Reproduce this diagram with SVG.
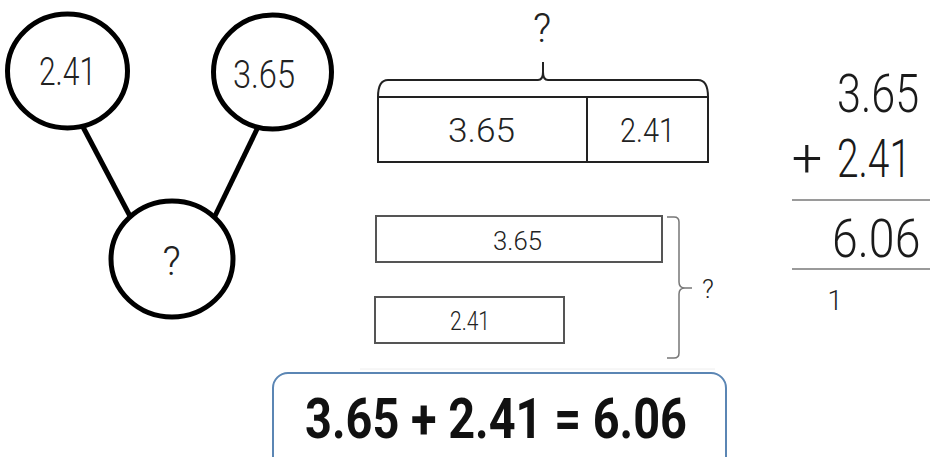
<svg xmlns="http://www.w3.org/2000/svg" width="930" height="457" viewBox="0 0 930 457">
<style>
text{font-family:Roboto,"Liberation Sans",sans-serif;fill:#222;font-weight:300;}
.col{font-weight:300;fill:#1a1a1a;}
.eq{font-weight:700;fill:#111;}
.node{fill:#fff;stroke:#000;stroke-width:5;}
.conn{stroke:#000;stroke-width:5;fill:none;}
.bar{fill:#fff;stroke:#222;stroke-width:2;}
.bar2{fill:#fff;stroke:#555;stroke-width:2;}
.rule{stroke:#9a9a9a;stroke-width:2;}
</style>
<rect width="930" height="457" fill="#fff"/>
<g id="connectors">
<line class="conn" x1="83" y1="127" x2="131" y2="218"/>
<line class="conn" x1="258" y1="127" x2="214" y2="218"/>
</g>
<g id="node-241">
<ellipse class="node" cx="67.5" cy="71" rx="60" ry="57"/>
<text x="39" y="85" font-size="38" textLength="57" lengthAdjust="spacingAndGlyphs">2.41</text>
</g>
<g id="node-365">
<ellipse class="node" cx="272.5" cy="72" rx="59" ry="57"/>
<text x="233" y="88" font-size="38" textLength="62" lengthAdjust="spacingAndGlyphs">3.65</text>
</g>
<g id="node-sum">
<ellipse class="node" cx="172" cy="259" rx="61" ry="58"/>
<text x="171.5" y="275" font-size="40" text-anchor="middle">?</text>
</g>
<g id="bar-model-top">
<text x="542" y="42" font-size="40" text-anchor="middle">?</text>
<path d="M378,97 Q378,80 388,80 L538,80 Q543,80 543,72 L543,62 M543,72 Q543,80 548,80 L698,80 Q708,80 708,97" fill="none" stroke="#222" stroke-width="2"/>
<rect class="bar" x="378" y="97" width="330" height="65"/>
<line x1="587" y1="97" x2="587" y2="162" stroke="#222" stroke-width="2"/>
<text x="448" y="142" font-size="34" textLength="67" lengthAdjust="spacingAndGlyphs">3.65</text>
<text x="620" y="142" font-size="34" textLength="55" lengthAdjust="spacingAndGlyphs">2.41</text>
</g>
<g id="bar-model-compare">
<rect class="bar2" x="376" y="216" width="286" height="46"/>
<text x="493" y="250" font-size="25" textLength="49" lengthAdjust="spacingAndGlyphs">3.65</text>
<rect class="bar2" x="375" y="297" width="189" height="46"/>
<text x="450" y="330" font-size="25" textLength="40" lengthAdjust="spacingAndGlyphs">2.41</text>
<path d="M667,217 L674,217 Q679,217 679,222 L679,282 Q679,288 685,288 L692,288 M685,288 Q679,288 679,294 L679,353 Q679,358 674,358 L667,358" fill="none" stroke="#777" stroke-width="1.5"/>
<text x="708" y="298" font-size="26" text-anchor="middle">?</text>
<line x1="360" y1="369" x2="715" y2="369" stroke="#eeeeee" stroke-width="1"/>
</g>
<g id="column-addition">
<text class="col" transform="translate(837,112) scale(0.8,1)" font-size="54">3.65</text>
<text class="col" x="807" y="177" font-size="54" text-anchor="middle">+</text>
<text class="col" transform="translate(837,177) scale(0.72,1)" font-size="54">2.41</text>
<line class="rule" x1="792" y1="200" x2="930" y2="200"/>
<text class="col" transform="translate(832,257) scale(0.86,1)" font-size="54">6.06</text>
<line class="rule" x1="792" y1="269" x2="930" y2="269"/>
<text x="835" y="310" font-size="27" text-anchor="middle" fill="#333">1</text>
</g>
<g id="equation">
<rect x="273" y="373" width="453" height="100" rx="15" fill="#fff" stroke="#5b86b4" stroke-width="2"/>
<text class="eq" x="305" y="438" font-size="56" textLength="382" lengthAdjust="spacingAndGlyphs">3.65 + 2.41 = 6.06</text>
</g>
</svg>
